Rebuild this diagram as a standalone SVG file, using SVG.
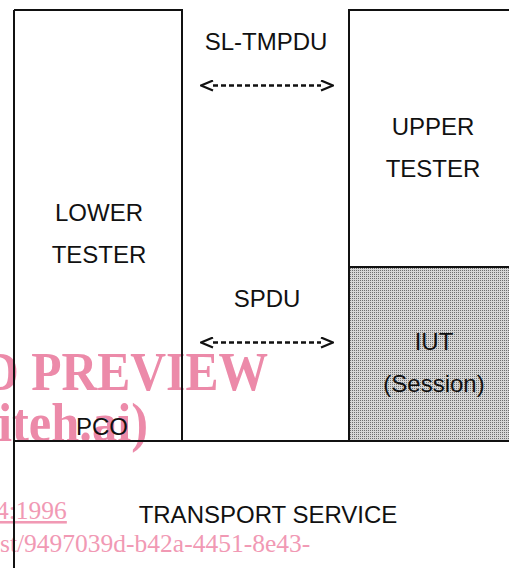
<svg xmlns="http://www.w3.org/2000/svg" width="509" height="568" viewBox="0 0 509 568">
<style>
.ln{stroke:#111;stroke-width:2;fill:none}
.lb{font-family:"Liberation Sans",Arial,sans-serif;font-size:24px;fill:#111;text-anchor:middle}
.wm{font-family:"Liberation Serif","Times New Roman",serif;font-weight:bold;font-size:55px;fill:#ec8aa9}
.wt{font-family:"Liberation Serif","Times New Roman",serif;font-size:25.5px;fill:#f199b4}
.dash{stroke:#111;stroke-width:2.5;stroke-dasharray:5 3;fill:none}
</style>
<defs>
<pattern id="dots" width="2" height="2" patternUnits="userSpaceOnUse">
<rect width="2" height="2" fill="#d6d6d6"/>
<rect width="1" height="1" fill="#6e6e6e"/>
</pattern>
<marker id="chev" viewBox="0 0 14 12" refX="1" refY="6" markerWidth="14" markerHeight="12" markerUnits="userSpaceOnUse" orient="auto-start-reverse">
<path d="M1,1 L13,6 L1,11" fill="none" stroke="#111" stroke-width="2.2"/>
</marker>
</defs>
<rect width="509" height="568" fill="#fff"/>
<g id="watermark">
<text class="wm" x="-17" y="390" textLength="285" lengthAdjust="spacingAndGlyphs">D PREVIEW</text>
<text class="wm" x="-2" y="441" textLength="150" lengthAdjust="spacingAndGlyphs">iteh.ai)</text>
<text class="wt" x="-4" y="519" text-decoration="underline">4:1996</text>
<text class="wt" x="0" y="552">st/9497039d-b42a-4451-8e43-</text>
</g>
<g id="lower-tester">
<path class="ln" d="M14,10 H182 V441 M14,10 V568"/>
<text class="lb" x="99" y="221">LOWER</text>
<text class="lb" x="99" y="263">TESTER</text>
</g>
<g id="pco">
<text class="lb" x="102" y="435">PCO</text>
</g>
<g id="iut">
<rect x="349" y="267" width="162" height="174" fill="url(#dots)"/>
<text class="lb" x="434" y="350">IUT</text>
<text class="lb" x="434" y="392">(Session)</text>
</g>
<g id="upper-tester">
<path class="ln" d="M511,10 H349 V441 M349,267 H511"/>
<text class="lb" x="433" y="135">UPPER</text>
<text class="lb" x="433" y="177">TESTER</text>
</g>
<g id="transport-service">
<path class="ln" d="M14,441 H511"/>
<text class="lb" x="268" y="523">TRANSPORT SERVICE</text>
</g>
<g id="connectors">
<text class="lb" x="266" y="50">SL-TMPDU</text>
<line class="dash" x1="213" y1="85.5" x2="321" y2="85.5" marker-start="url(#chev)" marker-end="url(#chev)"/>
<text class="lb" x="267" y="307">SPDU</text>
<line class="dash" x1="213" y1="342.5" x2="321" y2="342.5" marker-start="url(#chev)" marker-end="url(#chev)"/>
</g>
</svg>
